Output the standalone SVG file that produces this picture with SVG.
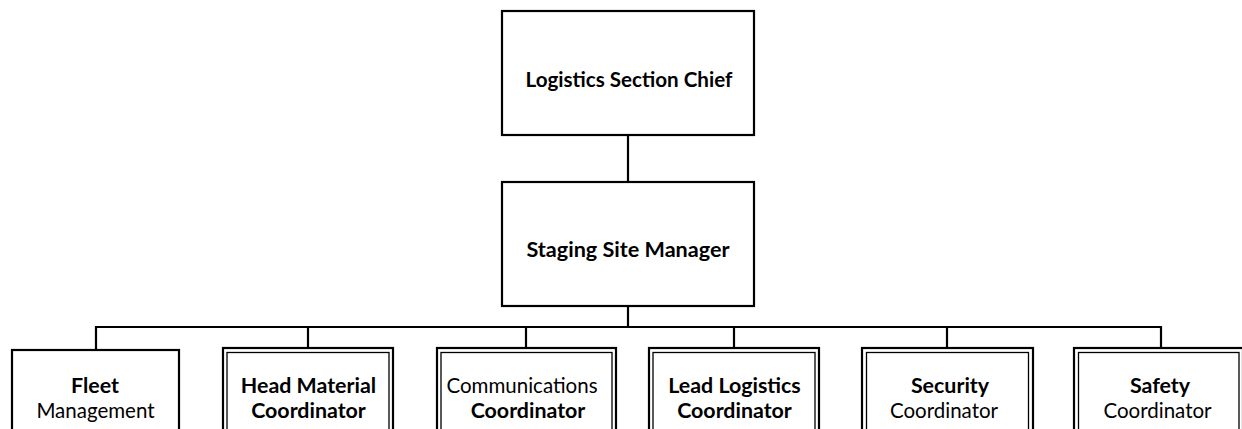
<svg xmlns="http://www.w3.org/2000/svg" width="1242" height="429" viewBox="0 0 1242 429">
  <style>
    .box { fill: #ffffff; stroke: #000000; stroke-width: 2.2; }
    .inner { fill: none; stroke: #000000; stroke-width: 1.3; }
    .wire { fill: none; stroke: #000000; stroke-width: 2.2; }
    text { font-family: Lato, "Open Sans", "Liberation Sans", sans-serif; fill: #000000; text-anchor: middle; }
    .b { font-size: 21.4px; font-weight: bold; }
    .r { font-size: 20.5px; font-weight: normal; }
  </style>
  <rect width="1242" height="429" fill="#ffffff"/>

  <!-- connectors -->
  <g id="connectors">
    <line class="wire" x1="628" y1="135" x2="628" y2="182"/>
    <line class="wire" x1="628" y1="306" x2="628" y2="327"/>
    <polyline class="wire" points="96,350 96,327 1161,327 1161,348"/>
    <line class="wire" x1="308" y1="327" x2="308" y2="348"/>
    <line class="wire" x1="526" y1="327" x2="526" y2="348"/>
    <line class="wire" x1="734" y1="327" x2="734" y2="348"/>
    <line class="wire" x1="947" y1="327" x2="947" y2="348"/>
  </g>

  <!-- top level -->
  <g id="logistics-section-chief">
    <rect class="box" x="502" y="11" width="252" height="124"/>
    <text class="b" x="629" y="87" style="font-size:20.6px">Logistics Section Chief</text>
  </g>

  <g id="staging-site-manager">
    <rect class="box" x="502" y="182" width="252" height="124"/>
    <text class="b" x="628" y="257" style="font-size:21.6px">Staging Site Manager</text>
  </g>

  <!-- bottom row -->
  <g id="fleet-management">
    <rect class="box" x="12" y="350" width="167" height="100"/>
    <text class="b" x="95" y="393">Fleet</text>
    <text class="r" x="95.5" y="418">Management</text>
  </g>

  <g id="head-material-coordinator">
    <rect class="box" x="223" y="348" width="170" height="100"/>
    <rect class="inner" x="227" y="352.5" width="162" height="100"/>
    <text class="b" x="308.5" y="393">Head Material</text>
    <text class="b" x="308.5" y="418">Coordinator</text>
  </g>

  <g id="communications-coordinator">
    <rect class="box" x="437" y="348" width="179" height="100"/>
    <rect class="inner" x="441" y="352.5" width="171" height="100"/>
    <text class="r" x="522" y="393">Communications</text>
    <text class="b" x="528" y="418">Coordinator</text>
  </g>

  <g id="lead-logistics-coordinator">
    <rect class="box" x="649" y="348" width="170" height="100"/>
    <rect class="inner" x="653" y="352.5" width="162" height="100"/>
    <text class="b" x="734.5" y="393">Lead Logistics</text>
    <text class="b" x="734.5" y="418">Coordinator</text>
  </g>

  <g id="security-coordinator">
    <rect class="box" x="862" y="348" width="171" height="100"/>
    <rect class="inner" x="866.5" y="352.5" width="162" height="100"/>
    <text class="b" x="950" y="393">Security</text>
    <text class="r" x="944" y="418">Coordinator</text>
  </g>

  <g id="safety-coordinator">
    <rect class="box" x="1074" y="348" width="169" height="100"/>
    <rect class="inner" x="1078.5" y="352.5" width="160.5" height="100"/>
    <text class="b" x="1160" y="393">Safety</text>
    <text class="r" x="1157.5" y="418">Coordinator</text>
  </g>
</svg>
